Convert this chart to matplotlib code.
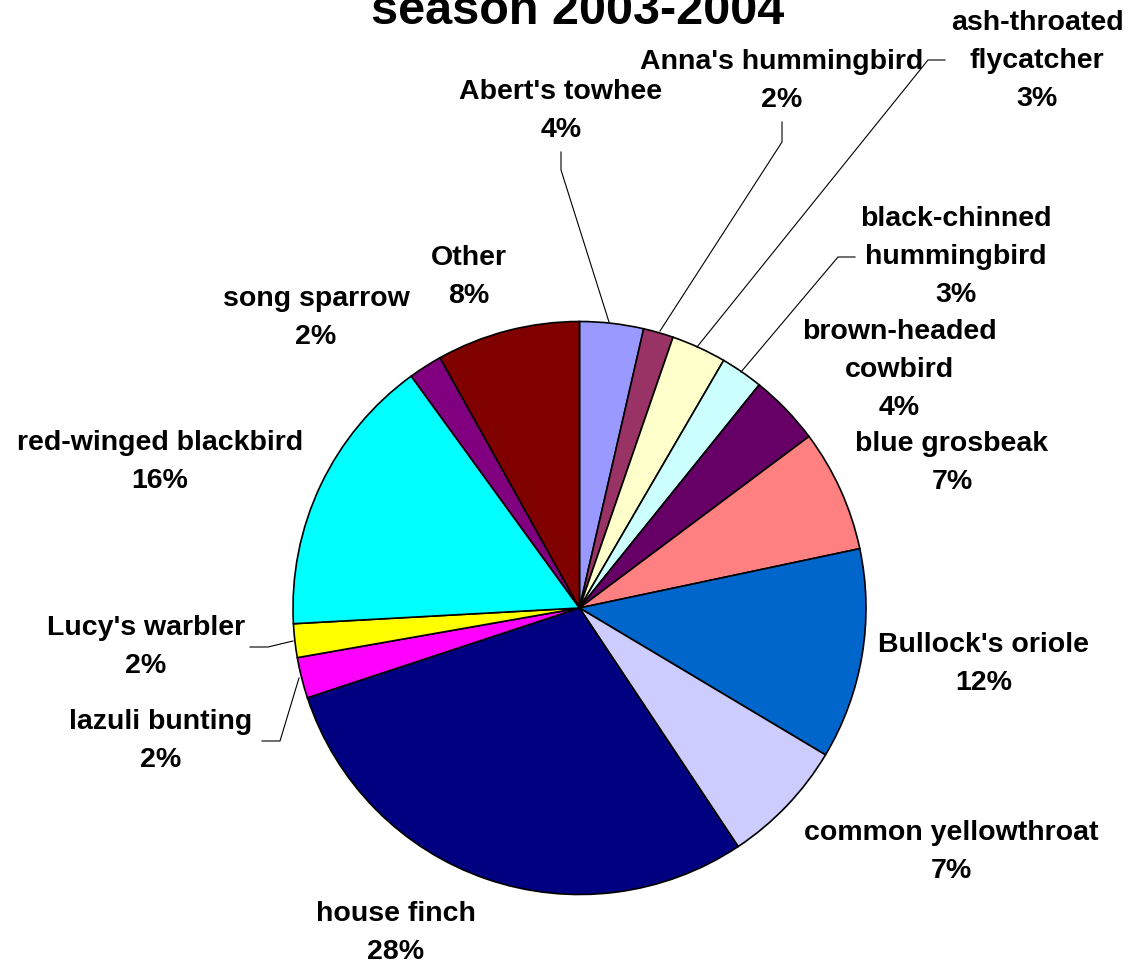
import matplotlib
matplotlib.use("Agg")
import matplotlib.pyplot as plt

plt.rcParams['font.family'] = ['Liberation Sans', 'DejaVu Sans']

species = ["Abert's towhee", "Anna's hummingbird", "ash-throated\nflycatcher",
           "black-chinned\nhummingbird", "brown-headed\ncowbird", "blue grosbeak",
           "Bullock's oriole", "common yellowthroat", "house finch", "lazuli bunting",
           "Lucy's warbler", "red-winged blackbird", "song sparrow", "Other"]
# slice sizes
shares = [3.6, 1.7, 3.1, 2.4, 4.0, 6.9, 11.9, 7.1, 29.3, 2.3, 1.9, 15.9, 1.9, 8.1]
pct_labels = ["4%", "2%", "3%", "3%", "4%", "7%", "12%", "7%", "28%", "2%", "2%", "16%", "2%", "8%"]
colors = ["#9999FF", "#993366", "#FFFFCC", "#CCFFFF", "#660066", "#FF8080", "#0066CC",
          "#CCCCFF", "#000080", "#FF00FF", "#FFFF00", "#00FFFF", "#800080", "#800000"]

W, H = 1134, 966
fig = plt.figure(figsize=(W / 100, H / 100), dpi=100)
ax = fig.add_axes([0, 0, 1, 1])

cx, cy, r = 579.5, H - 608, 286.5
ax.pie(shares, colors=colors, startangle=90, counterclock=False,
       center=(cx, cy), radius=r,
       wedgeprops=dict(edgecolor="black", linewidth=1.2))
ax.set_xlim(0, W)
ax.set_ylim(0, H)
ax.set_aspect("equal")
ax.axis("off")

# label centres in pixel coordinates (x, y from top)
label_pos = [(561, 111), (782, 81), (1037, 61), (956, 257), (899, 370), (952, 463),
             (984, 664), (951, 852), (396, 933), (161, 741), (146, 647), (160, 462),
             (316, 318), (469, 277)]
for name, pct, (x, y) in zip(species, pct_labels, label_pos):
    ax.text(x, H - y, name + "\n" + pct, ha="center", va="center",
            fontsize=20.5, fontweight="bold", linespacing=1.6)

leaders = [
    [(561, 152), (561, 170), (609, 322)],
    [(782, 122), (782, 142), (660, 331)],
    [(945, 60), (928, 60), (697, 347)],
    [(855, 257), (838, 257), (741, 372)],
    [(262, 741), (280, 741), (299, 678)],
    [(250, 647), (268, 647), (293, 641)],
]
for pts in leaders:
    ax.plot([p[0] for p in pts], [H - p[1] for p in pts], color="black", linewidth=0.8)

fig.text(578 / W, 1 - 12 / H, "season 2003-2004", ha="center", va="center",
         fontsize=35, fontweight="bold")

fig.savefig("out.png", dpi=100)
